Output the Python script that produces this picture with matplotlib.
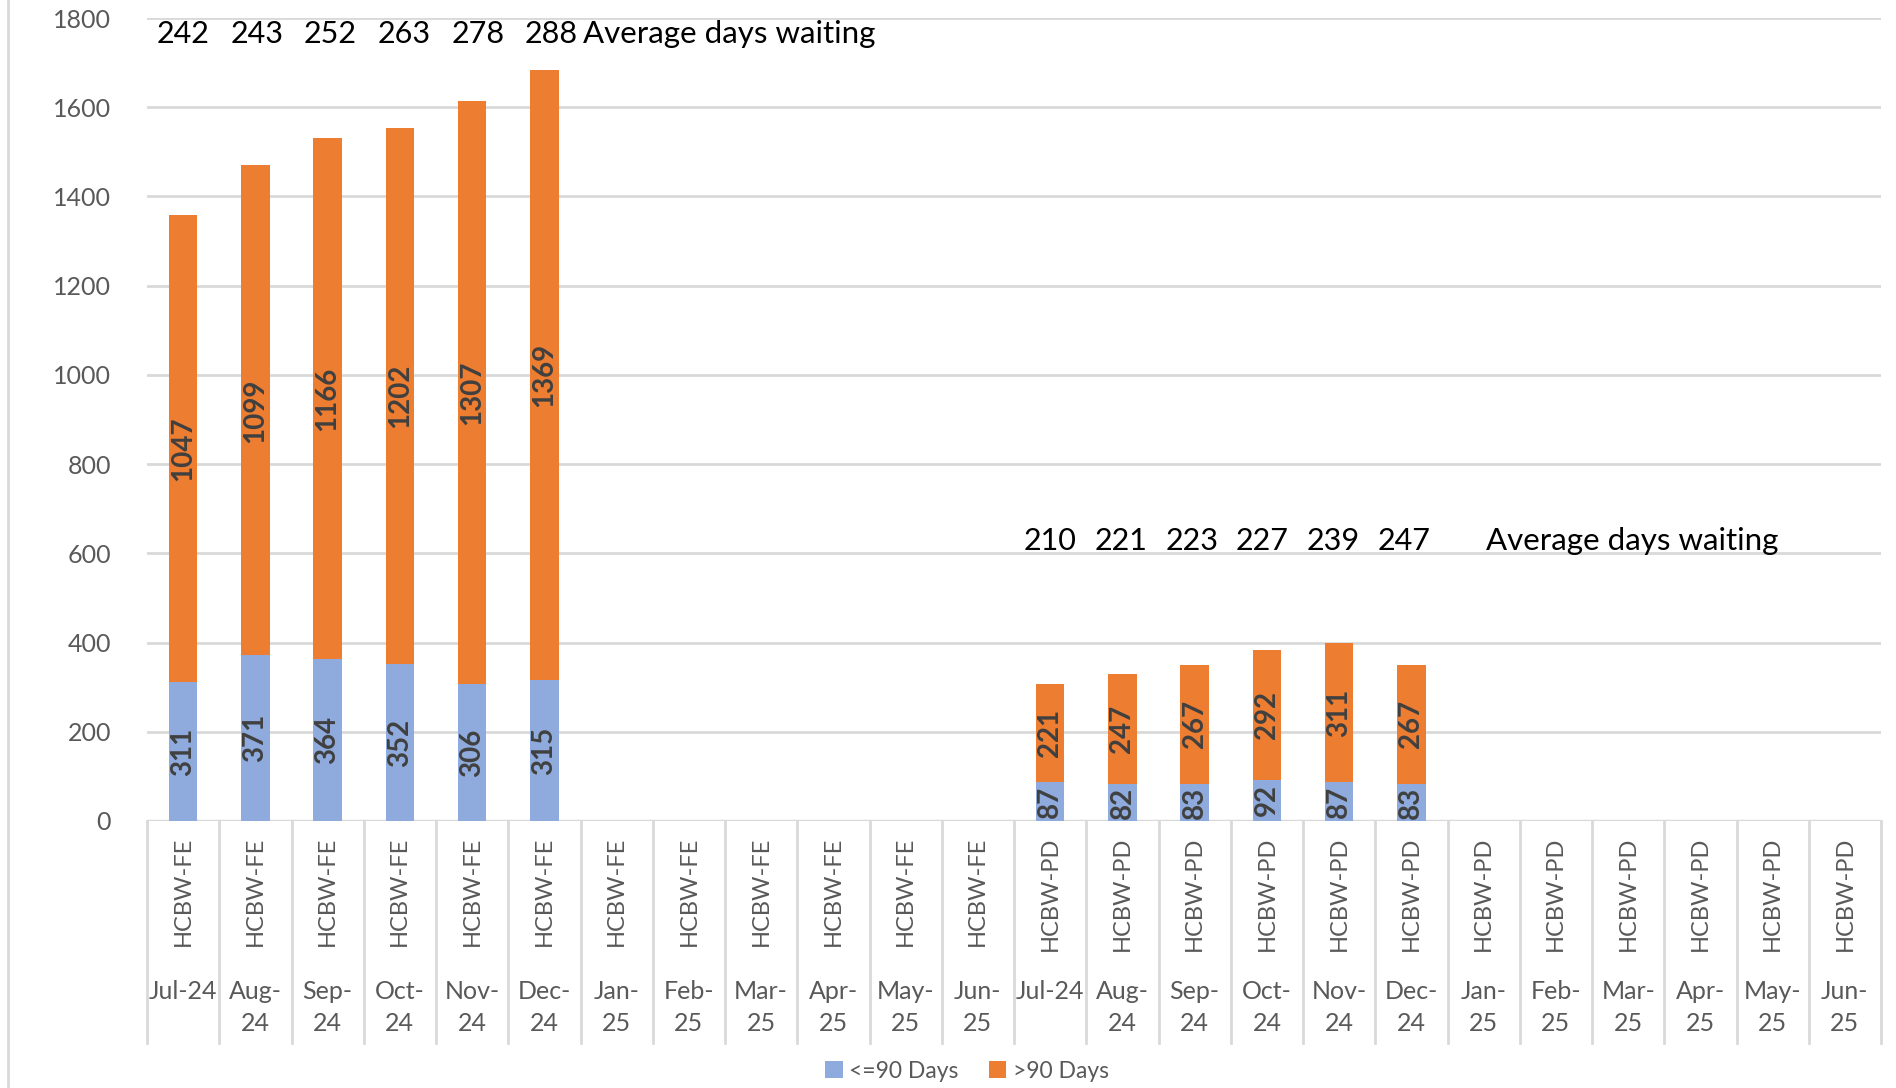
import matplotlib
matplotlib.use("Agg")
import matplotlib.pyplot as plt
from matplotlib.lines import Line2D
import numpy as np

plt.rcParams['font.family'] = ['Lato', 'DejaVu Sans']

# data
groups = ["HCBW-FE"] * 12 + ["HCBW-PD"] * 12
months = ["Jul-24", "Aug-\n24", "Sep-\n24", "Oct-\n24", "Nov-\n24", "Dec-\n24",
          "Jan-\n25", "Feb-\n25", "Mar-\n25", "Apr-\n25", "May-\n25", "Jun-\n25"] * 2
le90 = [311, 371, 364, 352, 306, 315, None, None, None, None, None, None,
        87, 82, 83, 92, 87, 83, None, None, None, None, None, None]
gt90 = [1047, 1099, 1166, 1202, 1307, 1369, None, None, None, None, None, None,
        221, 247, 267, 292, 311, 267, None, None, None, None, None, None]
avg_fe = [242, 243, 252, 263, 278, 288]
avg_pd = [210, 221, 223, 227, 239, 247]

blue = "#8FAADC"
orange = "#ED7D31"
grey_txt = "#595959"
grid_c = "#D9D9D9"

W, H = 1896, 1088
fig = plt.figure(figsize=(W / 100, H / 100), dpi=100)
ax = fig.add_axes([147 / W, 1 - 821 / H, (1881 - 147) / W, (821 - 18) / H])

x = np.arange(len(groups))
lo = np.array([v if v is not None else 0 for v in le90], dtype=float)
hi = np.array([v if v is not None else 0 for v in gt90], dtype=float)
bw = 0.395
b1 = ax.bar(x, lo, bw, color=blue, label="<=90 Days", zorder=3)
b2 = ax.bar(x, hi, bw, bottom=lo, color=orange, label=">90 Days", zorder=3)

# labels inside the bars
for i in range(len(x)):
    if le90[i] is None:
        continue
    ax.text(x[i], lo[i] / 2, str(le90[i]), rotation=90, ha='center', va='center',
            fontsize=20, fontweight='bold', color="#404040", zorder=4)
    ax.text(x[i], lo[i] + hi[i] / 2, str(gt90[i]), rotation=90, ha='center', va='center',
            fontsize=20, fontweight='bold', color="#404040", zorder=4)

# average days waiting annotations
for k, v in enumerate(avg_fe):
    ax.text(k + 0.02 * k, 1765, str(v), ha='center', va='center', fontsize=22, color='black')
ax.text(5.53, 1765, "Average days waiting", ha='left', va='center', fontsize=22.5, color='black')
for k, v in enumerate(avg_pd):
    ax.text(12 + k - 0.02 * k, 627, str(v), ha='center', va='center', fontsize=22, color='black')
ax.text(18.03, 627, "Average days waiting", ha='left', va='center', fontsize=22.5, color='black')

ax.set_xlim(-0.5, len(x) - 0.5)
ax.set_ylim(0, 1800)
ax.set_yticks(np.arange(0, 1801, 200))
ax.tick_params(axis='y', length=0, pad=26, labelsize=18, labelcolor=grey_txt)
ax.yaxis.grid(True, color=grid_c, linewidth=2, zorder=0)
ax.set_xticks([])
for s in ax.spines.values():
    s.set_visible(False)
ax.axhline(0, color=grid_c, linewidth=2.5, zorder=2)

# multi-level category axis
trans = ax.get_xaxis_transform()
bottom = -(1043 - 821) / (821 - 18)
for b in np.arange(-0.5, len(x), 1.0):
    ax.add_artist(Line2D([b, b], [0, bottom], transform=trans, color=grid_c,
                         linewidth=2, clip_on=False))
y_grp = -(837 - 821) / (821 - 18)
y_mon = -(980 - 821) / (821 - 18)
for i in range(len(x)):
    ax.text(x[i], y_grp, groups[i], transform=trans, rotation=90, ha='center', va='top',
            fontsize=17, color=grey_txt)
    ax.text(x[i], y_mon, months[i], transform=trans, ha='center', va='top',
            fontsize=18, color=grey_txt, linespacing=1.45)

# chart area left border
fig.add_artist(Line2D([8 / W, 8 / W], [0, 1], color=grid_c, linewidth=2))

fig.legend(handles=[b1, b2], loc='center', bbox_to_anchor=(967 / W, 1 - 1071 / H),
           ncol=2, frameon=False, fontsize=16.5, labelcolor=grey_txt,
           handlelength=0.75, handleheight=0.75, handletextpad=0.3, columnspacing=1.3)

fig.savefig("out.png", dpi=100)
